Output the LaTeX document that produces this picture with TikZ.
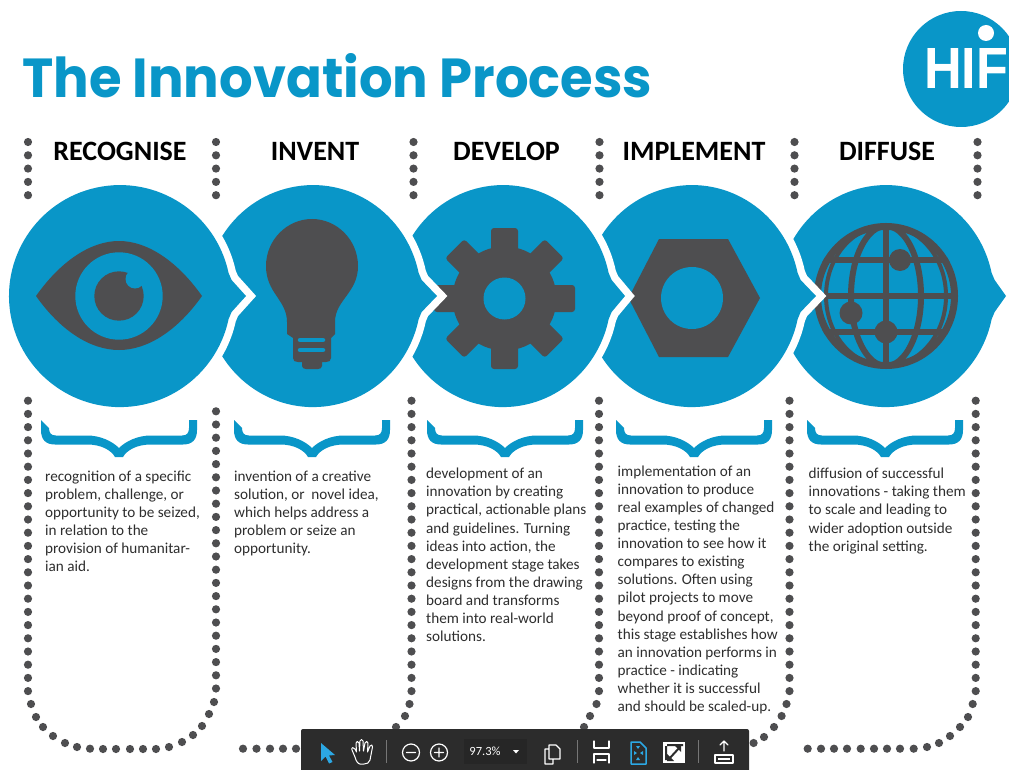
\documentclass[tikz,border=0pt]{standalone}
\usepackage{fontspec}
\setmainfont{Carlito}
\newfontfamily\titlefont{Poppins}
\newfontfamily\logofont{Liberation Sans}
\usetikzlibrary{calc}
\definecolor{hifblue}{HTML}{0996C8}
\definecolor{hifdark}{HTML}{4E4E50}
\definecolor{barbg}{HTML}{2C2C2C}
\definecolor{barblue}{HTML}{2CA8E4}
\tikzset{
  blobfill/.style={fill=hifblue},
  blobhalo/.style={draw=white,line width=15pt,fill=white,miter limit=10},
  icon/.style={fill=hifdark},
  hole/.style={fill=hifblue},
  head/.style={font=\fontsize{28}{30}\selectfont\bfseries,text=black,inner sep=0pt},
  body/.style={font=\fontsize{15.2}{18.1}\selectfont,text=black!82,align=left,anchor=north west,inner sep=0pt},
  barline/.style={draw=white,line width=1.2pt,line cap=round,line join=round},
  barsep/.style={draw=white!35!barbg,line width=.8pt}
}
\newcommand{\blobpath}[3]{({#1+#2*cos(12)},273) arc [start angle=-12,end angle=-348,x radius=#2pt,y radius=111pt] -- ({#1+#2*cos(12)+3},312) -- (#3,296) -- ({#1+#2*cos(12)+3},280) -- cycle}
\newcommand{\blobdraw}[3]{\path[blobhalo] \blobpath{#1}{#2}{#3}; \path[blobfill] \blobpath{#1}{#2}{#3};}
\newcommand{\bracefig}[1]{\begin{scope}[shift={(#1,0)}]
\fill[hifblue] (0,420) -- (0,430) .. controls (0,440) and (5,444.5) .. (14,444.5) -- (46,444.5) .. controls (60,444.5) and (70,450) .. (74,457) -- (82,457) .. controls (86,450) and (96,444.5) .. (110,444.5) -- (142,444.5) .. controls (151,444.5) and (156,440) .. (156,430) -- (156,420) -- (148,420) -- (148,428) .. controls (148,433) and (146,435.5) .. (141,435.5) -- (110,435.5) .. controls (97,435.5) and (85,441) .. (78,448) .. controls (71,441) and (59,435.5) .. (46,435.5) -- (15,435.5) .. controls (10,435.5) and (8,433) .. (8,428) -- cycle;
\end{scope}}
\begin{document}
\begin{tikzpicture}[x=1pt,y=1pt,yscale=-1]
\useasboundingbox (0,0) rectangle (1009,770);
\clip (0,0) rectangle (1009,770);
\fill[white] (0,0) rectangle (1009,770);

% title and logo
\node[inner sep=0pt,anchor=north west,text=hifblue] (title) at (22,53.5) {\resizebox{630pt}{44pt}{\titlefont\bfseries The Innovation Process}};
\fill[hifblue] (961,69) circle (58);
\node[inner sep=0pt,anchor=north west,text=white] (logo) at (924,48) {\resizebox{84pt}{40pt}{\logofont\bfseries HIF}};
\fill[white] (986,33) circle (8);

% stage 5 and globe
\blobdraw{886}{108}{1006}
\begin{scope}
\clip (886,296) ellipse [x radius=72pt,y radius=73pt];
\draw[hifdark,line width=6pt] (813,260) -- (959,260) (813,296) -- (959,296) (813,332) -- (959,332) (886,223) -- (886,369);
\end{scope}
\draw[hifdark,line width=7pt] (886,296) ellipse [x radius=68.5pt,y radius=69.5pt];
\draw[hifdark,line width=6pt] (886,296) ellipse [x radius=35pt,y radius=70pt];
\draw[hifdark,line width=4pt] (886,296) ellipse [x radius=60pt,y radius=70pt];
\fill[icon] (900,260) circle (11) (851,313) circle (11.5) (886,332) circle (11.5);

% stage 4 and nut
\blobdraw{692}{108}{816}
\fill[icon] (628.5,298) -- (659,239) -- (728,239) -- (760,298) -- (728,357) -- (659,357) -- cycle;
\fill[hole] (692,298) circle (31);

% stage 3 and gear
\blobdraw{503}{108}{625}
\begin{scope}[shift={(504.5,298.5)}]
\fill[icon] (0,0) circle (52);
\foreach \a in {0,45,...,315}{
  \fill[icon,rotate=\a,rounded corners=3pt] (-13.5,40) rectangle (13.5,70.5);
}
\fill[hole] (0,0) circle (21);
\end{scope}

% stage 2 and bulb
\blobdraw{313}{108}{437}
\fill[icon] (287,334) -- (287,322) .. controls (287,300) and (266,293) .. (266,266) .. controls (266,240) and (287,219) .. (312,219) .. controls (337,219) and (358,240) .. (358,266) .. controls (358,293) and (335,300) .. (335,322) -- (335,334) -- (331,338) -- (331,358) .. controls (331,361) and (329,362) .. (326,362) -- (322,362) -- (322,366) .. controls (322,368) and (320,369) .. (318,369) -- (306,369) .. controls (304,369) and (302,368) .. (302,366) -- (302,362) -- (298,362) .. controls (295,362) and (293,361) .. (293,358) -- (293,338) -- cycle;
\draw[hifblue,line width=4.5pt,line cap=round] (300,340) -- (323,340) (300,350) -- (323,350);

% stage 1 and eye
\blobdraw{120}{111}{246}
\fill[icon] (36,296) .. controls (60,262) and (90,241) .. (119,241) .. controls (148,241) and (178,262) .. (202,296) .. controls (178,330) and (148,350) .. (119,350) .. controls (90,350) and (60,330) .. (36,296) -- cycle;
\fill[hole] (119,296) circle (43.7);
\fill[icon] (119,296) circle (24.7);
\fill[hole] (135,279) circle (9.5);

% headings
\node[head] (h1) at (120,151) {RECOGNISE};
\node[head] (h2) at (315,151) {INVENT};
\node[head] (h3) at (506.5,151) {DEVELOP};
\node[head] (h4) at (694,151) {IMPLEMENT};
\node[head] (h5) at (887,151) {DIFFUSE};

% dots
\foreach \x in {28,216,413.5,599.5,794.5,977.5}
  \foreach \y in {142,155.3,168.6,181.9,195.2}
    \fill[hifdark] (\x,\y) circle (4.1);
\foreach \x in {28,411.5,599,789.5,975.7}
  \foreach \i in {0,...,22}
    \fill[hifdark] (\x,400.7+13.2*\i) circle (4.1);
\foreach \i in {0,...,21}
  \fill[hifdark] (216,411.3+13.2*\i) circle (4.1);
\foreach \p in {(31,704),(36,717),(43,727),(53,736),(65,743),(77,747),(90,748.7),(103,749),(116,749),(130,749),(143,749),(156,749),(169,747),(182,742),(193,735),(202,726),(209,714),(214,702),
 (243,748.7),(256.5,748.7),(270,748.7),(283,748.7),(296,748.7),
 (409.5,704),(405,716),(396,727),
 (596.5,704),(590,716),(584,727),
 (786.5,704),(781.6,716),(774,727),(764,737),(753.6,743),
 (972.7,704),(968,717),(960,727),(950,736),(939,743),(927,747),(913.7,748.7),(900,748.7),(887,748.7),(874,748.7),(860.7,748.7),(847,748.7),(834,748.7),(821,748.7),(807.7,748.7)}
  \fill[hifdark] \p circle (4.1);

% braces
\bracefig{41}
\bracefig{234}
\bracefig{427}
\bracefig{616}
\bracefig{807}

% body texts
\node[body] (t1) at (45,470.5) {recognition of a specific\\problem, challenge, or\\opportunity to be seized,\\in relation to the\\provision of humanitar-\\ian aid.};
\node[body] (t2) at (234,470.5) {invention of a creative\\solution, or \ novel idea,\\which helps address a\\problem or seize an\\opportunity.};
\node[body] (t3) at (426,468) {development of an\\innovation by creating\\practical, actionable plans\\and guidelines. Turning\\ideas into action, the\\development stage takes\\designs from the drawing\\board and transforms\\them into real-world\\solutions.};
\node[body] (t4) at (617.5,465.5) {implementation of an\\innovation to produce\\real examples of changed\\practice, testing the\\innovation to see how it\\compares to existing\\solutions. Often using\\pilot projects to move\\beyond proof of concept,\\this stage establishes how\\an innovation performs in\\practice - indicating\\whether it is successful\\and should be scaled-up.};
\node[body] (t5) at (808.5,468) {diffusion of successful\\innovations - taking them\\to scale and leading to\\wider adoption outside\\the original setting.};

% viewer toolbar
\fill[barbg,rounded corners=2pt] (301,729) rectangle (749,775);
\fill[barblue] (321,743) -- (321,761) -- (325.5,756.5) -- (329,763.5) -- (332.5,762) -- (329,755.5) -- (335,755) -- cycle;
\draw[barline,line width=1pt] (355,757) -- (352,750) .. controls (351,747) and (354,747) .. (355,749) -- (356.5,752) -- (356,743) .. controls (356,741) and (358.5,741) .. (359,743) -- (359.5,751) -- (360,741) .. controls (360,739) and (363,739) .. (363,741) -- (363.5,751) -- (365,743) .. controls (365.5,741) and (368,741) .. (368,743) -- (367.5,752) -- (370,746) .. controls (371,744) and (373,745) .. (372.5,747) -- (370,760) .. controls (369,763) and (367,764) .. (364,764) -- (360,764) .. controls (358,764) and (356,761) .. (355,757) -- cycle;
\draw[barsep] (386.5,740) -- (386.5,763) (577,740) -- (577,763) (698.5,740) -- (698.5,763);
\draw[barline] (411,752.5) circle (8.5) (406.5,752.5) -- (415.5,752.5);
\draw[barline] (439,752.5) circle (8.5) (434.5,752.5) -- (443.5,752.5) (439,748) -- (439,757);
\fill[black!85] (464,739) rectangle (527,764);
\node[inner sep=0pt,text=white,font=\fontsize{12.5}{13}\selectfont] (zoomval) at (485,751) {97.3\%};
\fill[white] (513,750) -- (519,750) -- (516,753.5) -- cycle;
\draw[barline] (549,745) -- (556,745) -- (560,749) -- (560,759) -- (549,759) -- cycle (549,749) -- (545,749) -- (545,764) -- (553,764) -- (553,759);
\draw[barline] (594,741) -- (594,748) -- (609,748) -- (609,741) (594,763) -- (594,754) -- (609,754) -- (609,763) (597,760) -- (606,760);
\draw[barblue,line width=1.5pt,line join=round] (631,742) -- (640,742) -- (646,748) -- (646,764) -- (631,764) -- cycle;
\fill[barblue] (636,746) -- (640,746) -- (638,749) -- cycle (636,760) -- (640,760) -- (638,757) -- cycle (634,751) -- (634,755) -- (637,753) -- cycle (643,751) -- (643,755) -- (640,753) -- cycle;
\fill[white] (663,742) rectangle (685,763);
\fill[barbg] (665,746) rectangle (667,760) (667,744) rectangle (683,746);
\draw[barbg,line width=2pt] (669,759) -- (680,747);
\fill[barbg] (667,761) -- (667,754) -- (674,761) -- cycle (681,745) -- (681,752) -- (674,745) -- cycle;
\draw[barline] (724,741) -- (724,751) (720,745) -- (724,741) -- (728,745);
\draw[barline] (715,755) rectangle (733,763);
\fill[white] (718,758) rectangle (730,760);
\end{tikzpicture}
\end{document}
